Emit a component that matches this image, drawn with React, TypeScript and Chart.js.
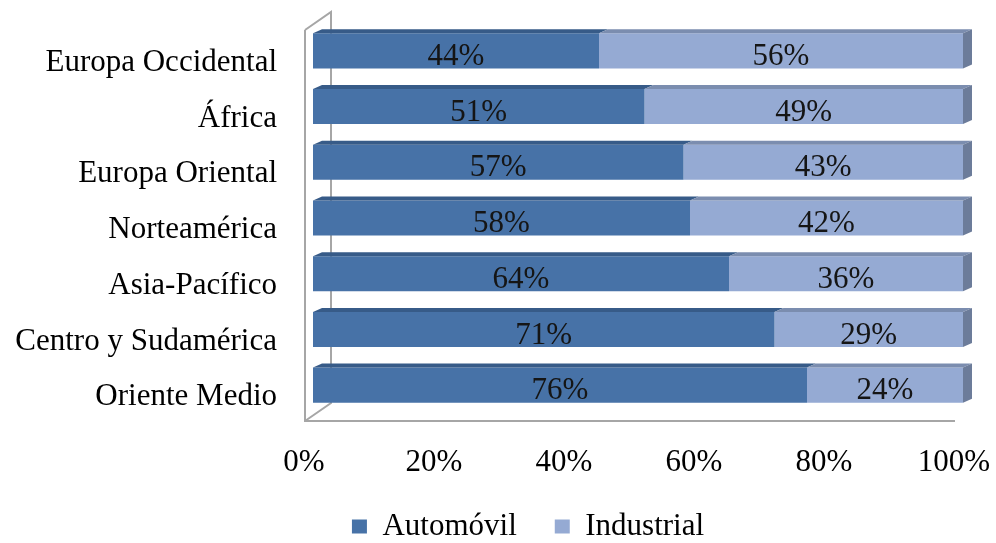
import React, { useEffect, useRef } from 'react';
import { Chart, registerables } from 'chart.js';

Chart.register(...registerables);

const categories = [
  'Europa Occidental',
  'África',
  'Europa Oriental',
  'Norteamérica',
  'Asia-Pacífico',
  'Centro y Sudamérica',
  'Oriente Medio',
];
const automovil = [44, 51, 57, 58, 64, 71, 76];
const industrial = [56, 49, 43, 42, 36, 29, 24];
const seriesNames = ['Automóvil', 'Industrial'];

const FONT = "'Liberation Serif', 'Times New Roman', serif";
const FS = 31;
const DARK = '#4772A7';
const LIGHT = '#95AAD3';
const DARK_TOP = '#375B88';
const LIGHT_TOP = '#7B8DAF';
const LIGHT_SIDE = '#6C7C9A';
const WALL = '#A6A6A6';

const DX = 9;
const DY = 4;

const threeD = {
  id: 'threeD',
  beforeDatasetsDraw(chart: any) {
    const { ctx, chartArea } = chart;
    const { left, right, top, bottom } = chartArea;
    ctx.save();
    ctx.strokeStyle = WALL;
    ctx.lineWidth = 2;
    ctx.beginPath();
    ctx.moveTo(left - 8, top + 7);
    ctx.lineTo(left - 8, bottom + 8);
    ctx.lineTo(right - 8, bottom + 8);
    ctx.moveTo(left - 8, bottom + 8);
    ctx.lineTo(left + 18, bottom - 10);
    ctx.lineTo(left + 18, top - 11);
    ctx.lineTo(left - 8, top + 7);
    ctx.stroke();
    ctx.restore();
  },
  afterDatasetsDraw(chart: any) {
    const { ctx } = chart;
    ctx.save();
    const n = chart.data.datasets.length;
    for (let d = 0; d < n; d++) {
      const meta = chart.getDatasetMeta(d);
      meta.data.forEach((bar: any) => {
        const { x, y, base, height } = bar.getProps(['x', 'y', 'base', 'height'], true);
        const t = y - height / 2;
        const b = y + height / 2;
        ctx.fillStyle = d === 0 ? DARK_TOP : LIGHT_TOP;
        ctx.beginPath();
        ctx.moveTo(base, t);
        ctx.lineTo(x, t);
        ctx.lineTo(x + DX, t - DY);
        ctx.lineTo(base + DX, t - DY);
        ctx.closePath();
        ctx.fill();
        if (d === n - 1) {
          ctx.fillStyle = LIGHT_SIDE;
          ctx.beginPath();
          ctx.moveTo(x, t);
          ctx.lineTo(x + DX, t - DY);
          ctx.lineTo(x + DX, b - DY);
          ctx.lineTo(x, b);
          ctx.closePath();
          ctx.fill();
        }
      });
    }
    ctx.fillStyle = '#151515';
    ctx.font = `${FS}px ${FONT}`;
    ctx.textAlign = 'center';
    ctx.textBaseline = 'middle';
    for (let d = 0; d < n; d++) {
      const meta = chart.getDatasetMeta(d);
      const values = chart.data.datasets[d].data;
      meta.data.forEach((bar: any, i: number) => {
        const { x, y, base } = bar.getProps(['x', 'y', 'base'], true);
        ctx.fillText(`${values[i]}%`, (x + base) / 2, y + 6);
      });
    }
    ctx.restore();
  },
};

export default function App() {
  const ref = useRef<HTMLCanvasElement | null>(null);
  useEffect(() => {
    if (!ref.current) return;
    const chart = new Chart(ref.current, {
      type: 'bar',
      data: {
        labels: categories,
        datasets: [
          {
            label: seriesNames[0],
            data: automovil,
            backgroundColor: DARK,
            borderWidth: 0,
            barPercentage: 0.63,
            categoryPercentage: 1,
          },
          {
            label: seriesNames[1],
            data: industrial,
            backgroundColor: LIGHT,
            borderWidth: 0,
            barPercentage: 0.63,
            categoryPercentage: 1,
          },
        ],
      },
      options: {
        indexAxis: 'y',
        animation: false,
        responsive: false,
        devicePixelRatio: 1,
        layout: { padding: { left: 0, right: -60, top: 23, bottom: -9 } },
        scales: {
          x: {
            stacked: true,
            min: 0,
            max: 100,
            grid: { display: false, drawTicks: false },
            border: { display: false },
            ticks: {
              stepSize: 20,
              padding: 31,
              labelOffset: -9,
              color: '#000',
              font: { family: FONT, size: FS },
              callback: (v: any) => `${v}%`,
            },
            afterFit: (s: any) => {
              s.height = 60;
              s.paddingLeft = 0;
              s.paddingRight = 0;
            },
          },
          y: {
            stacked: true,
            grid: { display: false, drawTicks: false },
            border: { display: false },
            ticks: {
              padding: 36,
              labelOffset: 12,
              color: '#000',
              font: { family: FONT, size: FS },
            },
            afterFit: (s: any) => {
              s.width = 313;
              s.paddingTop = 0;
              s.paddingBottom = 0;
            },
          },
          yRight: {
            type: 'linear',
            position: 'right',
            display: true,
            grid: { display: false, drawTicks: false },
            border: { display: false },
            ticks: { display: false },
            afterFit: (s: any) => {
              s.width = 93;
              s.paddingTop = 0;
              s.paddingBottom = 0;
            },
          },
        },
        plugins: {
          legend: {
            position: 'bottom',
            labels: {
              boxWidth: 15,
              boxHeight: 14,
              padding: 38,
              color: '#000',
              font: { family: FONT, size: FS },
            },
          },
          tooltip: { enabled: false },
        },
      },
      plugins: [threeD],
    });
    return () => chart.destroy();
  }, []);
  return (
    <div style={{ position: 'fixed', left: 0, top: 0, width: 996, height: 543, background: '#fff' }}>
      <canvas ref={ref} width={996} height={543} style={{ display: 'block', width: 996, height: 543 }} />
    </div>
  );
}
